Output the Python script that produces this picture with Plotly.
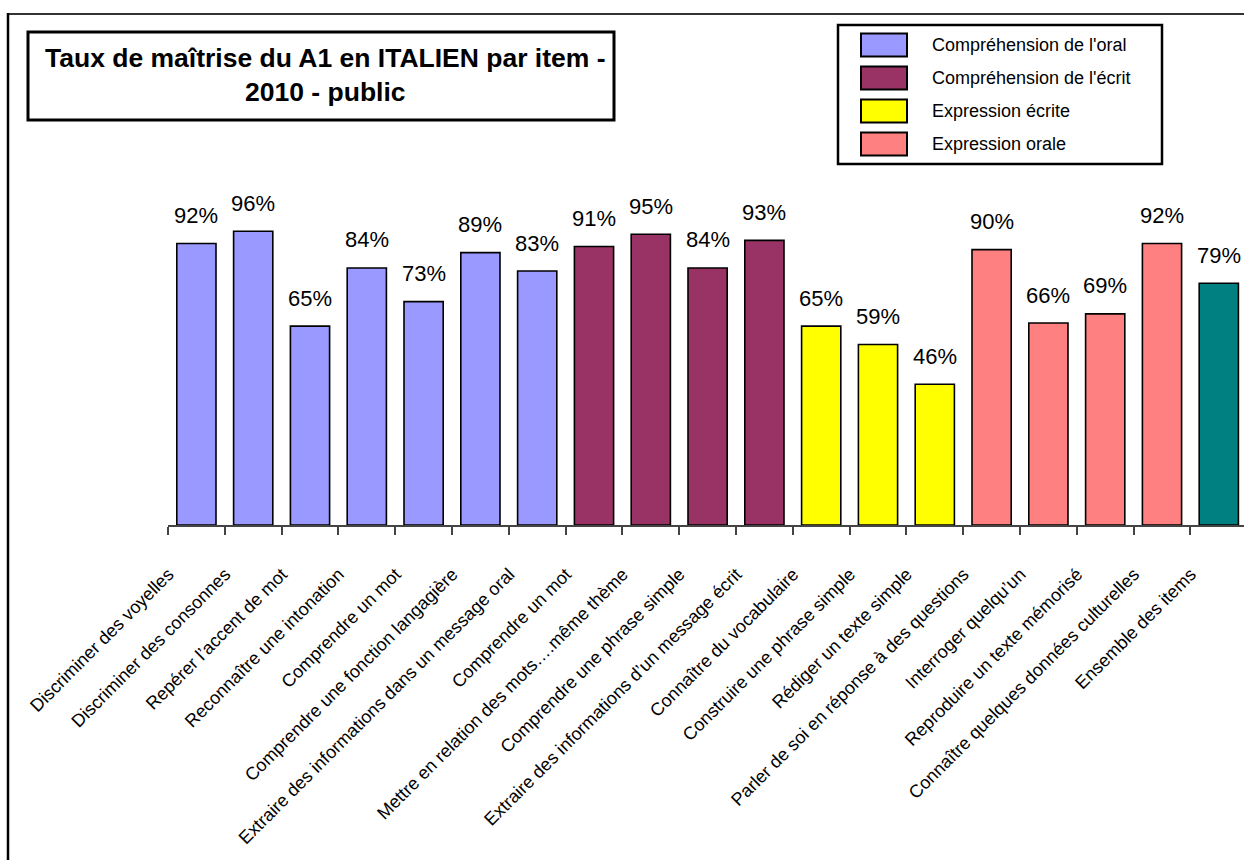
import plotly.graph_objects as go

# Items evaluated (x axis), in display order
items = [
    "Discriminer des voyelles",
    "Discriminer des consonnes",
    "Repérer l’accent de mot",
    "Reconnaître une intonation",
    "Comprendre un mot",
    "Comprendre une fonction langagière",
    "Extraire des informations dans un message oral",
    "Comprendre un mot",
    "Mettre en relation des mots….même thème",
    "Comprendre une phrase simple",
    "Extraire des informations d’un message écrit",
    "Connaître du vocabulaire",
    "Construire une phrase simple",
    "Rédiger un texte simple",
    "Parler de soi en réponse à des questions",
    "Interroger quelqu’un",
    "Reproduire un texte mémorisé",
    "Connaître quelques données culturelles",
    "Ensemble des items",
]

# Mastery rate for each item
taux = [0.92, 0.96, 0.65, 0.84, 0.73, 0.89, 0.83,
        0.91, 0.95, 0.84, 0.93,
        0.65, 0.59, 0.46,
        0.90, 0.66, 0.69, 0.92,
        0.79]

# Skill area of each item
domaine = ["oral"] * 7 + ["ecrit"] * 4 + ["expr_ecrite"] * 3 + ["expr_orale"] * 4 + ["ensemble"]

domain_names = {
    "oral": "Compréhension de l'oral",
    "ecrit": "Compréhension de l'écrit",
    "expr_ecrite": "Expression écrite",
    "expr_orale": "Expression orale",
}
legend_order = ["oral", "ecrit", "expr_ecrite", "expr_orale"]

colors = {
    "oral": "#9999FF",
    "ecrit": "#993366",
    "expr_ecrite": "#FFFF00",
    "expr_orale": "#FF8080",
    "ensemble": "#008080",
}

FONT = "Liberation Sans, Arial, sans-serif"
W, H = 1244, 860
ML, MR, MT, MB = 168, 0, 158, 335
PW = W - ML - MR
PH = H - MT - MB
CAT_W = 56.8  # pixel width of one category slot


def px_x(p):
    return (p - ML) / PW


def px_y(p):
    return (H - MB - p) / PH


x = list(range(len(items)))

fig = go.Figure()
fig.add_trace(go.Bar(
    x=x,
    y=taux,
    width=0.69,
    marker=dict(color=[colors[d] for d in domaine],
                line=dict(color="#000000", width=1.6)),
    showlegend=False,
    hoverinfo="skip",
))

annotations = []
# value labels above each bar
for xi, v in zip(x, taux):
    annotations.append(dict(
        x=xi, y=v, xref="x", yref="y",
        text=f"{round(v * 100)}%",
        showarrow=False, yanchor="middle", yshift=28,
        font=dict(family=FONT, size=22, color="#000000"),
    ))

# title inside its framed box
annotations.append(dict(
    x=px_x(325), y=px_y(75), xref="paper", yref="paper",
    text="<b>Taux de maîtrise du A1 en ITALIEN par item -<br>2010 - public</b>",
    showarrow=False, xanchor="center", yanchor="middle",
    font=dict(family=FONT, size=26.5, color="#000000"),
))

shapes = [
    # outer chart frame (top and left edges)
    dict(type="line", xref="paper", yref="paper",
         x0=px_x(8), x1=px_x(W + 5), y0=px_y(14), y1=px_y(14),
         line=dict(color="#333333", width=2)),
    dict(type="line", xref="paper", yref="paper",
         x0=px_x(8), x1=px_x(8), y0=px_y(13), y1=px_y(H + 5),
         line=dict(color="#000000", width=2.5)),
    # title frame
    dict(type="rect", xref="paper", yref="paper",
         x0=px_x(28), x1=px_x(614), y0=px_y(32), y1=px_y(120),
         line=dict(color="#000000", width=3), fillcolor="rgba(0,0,0,0)"),
    # legend frame
    dict(type="rect", xref="paper", yref="paper",
         x0=px_x(838), x1=px_x(1162), y0=px_y(25), y1=px_y(164),
         line=dict(color="#000000", width=2.5), fillcolor="#FFFFFF"),
]

# legend swatches and labels
legend_y = [45, 78, 111, 144]
for key, cy in zip(legend_order, legend_y):
    shapes.append(dict(
        type="rect", xref="paper", yref="paper",
        x0=px_x(861), x1=px_x(907), y0=px_y(cy - 11.5), y1=px_y(cy + 11.5),
        line=dict(color="#000000", width=2), fillcolor=colors[key],
    ))
    annotations.append(dict(
        x=px_x(930), y=px_y(cy), xref="paper", yref="paper",
        text=domain_names[key], showarrow=False,
        xanchor="left", yanchor="middle",
        font=dict(family=FONT, size=18, color="#000000"),
    ))

fig.update_layout(
    width=W, height=H,
    margin=dict(l=ML, r=MR, t=MT, b=MB, pad=0, autoexpand=False),
    paper_bgcolor="#FFFFFF",
    plot_bgcolor="#FFFFFF",
    bargap=0.31,
    showlegend=False,
    shapes=shapes,
    annotations=annotations,
    xaxis=dict(
        range=[-0.5, -0.5 + PW / CAT_W],
        tickmode="array",
        tickvals=x,
        ticktext=items,
        tickangle=-45,
        ticks="",
        ticklabelstandoff=30,
        ticklabelshift=-28,
        showline=True, linecolor="#444444", linewidth=1.5,
        showgrid=False, zeroline=False,
        automargin=False,
        tickfont=dict(family=FONT, size=18, color="#000000"),
        minor=dict(tickmode="array",
                   tickvals=[i - 0.5 for i in range(len(items) + 1)],
                   ticks="outside", ticklen=8, tickwidth=1.5,
                   tickcolor="#444444", showgrid=False),
    ),
    yaxis=dict(
        range=[0, PH / 306.0],
        visible=False, showgrid=False, zeroline=False, fixedrange=True,
    ),
)

fig.write_html("out.html")
